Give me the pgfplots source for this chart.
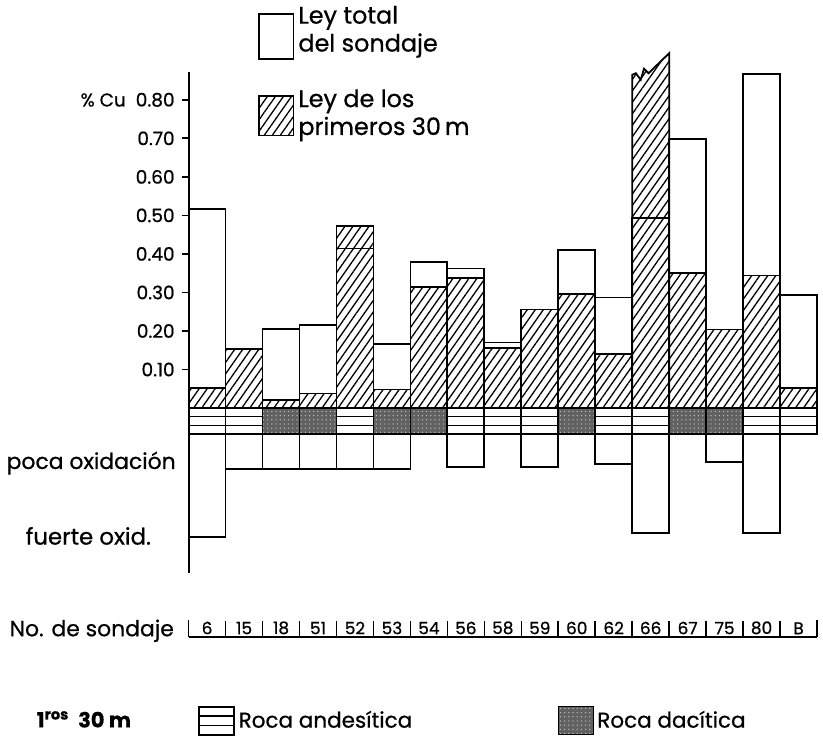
\documentclass[border=0pt]{standalone}
\usepackage{fontspec}
\setmainfont{Poppins}[FakeBold=0.7]
\usepackage{pgfplots}
\pgfplotsset{compat=1.18}
\usetikzlibrary{patterns.meta}

\tikzset{
  hatch/.style={pattern={Lines[angle=55,distance=3.3pt,line width=0.65pt]}},
  dacite/.style={fill=black!62, postaction={pattern={Dots[distance=2.1pt,radius=0.35pt]}, pattern color=white!75!black}},
}

\begin{document}
\begin{tikzpicture}
\begin{axis}[
  name=main,
  scale only axis, width=315.5pt, height=295pt,
  xmin=0, xmax=17, ymin=-0.595, ymax=0.93,
  clip=false,
  axis x line=bottom, axis y line=left,
  x axis line style={-, line width=0.9pt},
  y axis line style={draw=none},
  tick align=outside, major tick length=3.5pt,
  ytick={0.1,0.2,0.3,0.4,0.5,0.6,0.7,0.8},
  yticklabels={0.10,0.20,0.30,0.40,0.50,0.60,0.70,{\% Cu\hspace{5pt}0.80}},
  yticklabel style={font=\fontsize{9.3}{10}\selectfont},
  ytick style={line width=0.9pt, black},
  xtick={0.5,1.5,2.5,3.5,4.5,5.5,6.5,7.5,8.5,9.5,10.5,11.5,12.5,13.5,14.5,15.5,16.5},
  xticklabels={6,15,18,51,52,53,54,56,58,59,60,62,66,67,75,80,B},
  xtick style={draw=none},
  xticklabel style={font=\fontsize{8.5}{9}\selectfont, anchor=south, yshift=1.5pt},
  legend cell align=left,
  legend style={at={(0.1094,1.082)}, anchor=north west, draw=none, fill=none,
    inner sep=0pt, row sep=13pt, font=\fontsize{12}{14}\selectfont,
    cells={align=left}},
]
% legend (top)
\addlegendimage{legend image code/.code={\draw[line width=0.9pt, fill=white] (0pt,-14.25pt) rectangle (17.5pt,8.25pt);}}
\addlegendentry{Ley total\\del sondaje}
\addlegendimage{legend image code/.code={\draw[line width=0.9pt, hatch] (0pt,-11pt) rectangle (17.5pt,9pt);}}
\addlegendentry{Ley de los\\primeros 30\,m}

% oxidation bars (below the rock band)
\addplot[forget plot, ybar, bar width=1, bar shift=0pt, draw=black, fill=none, line width=0.9pt] coordinates {
 (0.5,-0.335) (1.5,-0.158) (2.5,-0.158) (3.5,-0.158) (4.5,-0.158) (5.5,-0.158)
 (7.5,-0.153) (9.5,-0.152) (11.5,-0.146) (12.5,-0.325) (14.5,-0.141) (15.5,-0.325)};

% rock band: andesitic
\addplot[forget plot, ybar, bar width=1, bar shift=0pt, draw=black, fill=white, line width=0.9pt] coordinates {
 (0.5,-0.067) (1.5,-0.067) (4.5,-0.067) (7.5,-0.067) (8.5,-0.067) (9.5,-0.067)
 (11.5,-0.067) (12.5,-0.067) (15.5,-0.067) (16.5,-0.067)};
% rock band: dacitic
\addplot[forget plot, ybar, bar width=1, bar shift=0pt, draw=black, dacite, line width=0.9pt] coordinates {
 (2.5,-0.067) (3.5,-0.067) (5.5,-0.067) (6.5,-0.067) (10.5,-0.067) (13.5,-0.067) (14.5,-0.067)};
% andesitic stripes
\addplot[forget plot, black, line width=0.8pt, unbounded coords=jump] coordinates {
 (0,-0.022) (2,-0.022) (2,nan) (4,-0.022) (5,-0.022) (5,nan) (7,-0.022) (10,-0.022) (10,nan)
 (11,-0.022) (13,-0.022) (13,nan) (15,-0.022) (17,-0.022)};
\addplot[forget plot, black, line width=0.8pt, unbounded coords=jump] coordinates {
 (0,-0.045) (2,-0.045) (2,nan) (4,-0.045) (5,-0.045) (5,nan) (7,-0.045) (10,-0.045) (10,nan)
 (11,-0.045) (13,-0.045) (13,nan) (15,-0.045) (17,-0.045)};

% grade of the first 30 m (hatched)
\addplot[forget plot, ybar, bar width=1, bar shift=0pt, draw=black, hatch, line width=0.9pt] coordinates {
 (0.5,0.053) (1.5,0.153) (2.5,0.020) (3.5,0.038) (4.5,0.472) (5.5,0.048) (6.5,0.314)
 (7.5,0.338) (8.5,0.156) (9.5,0.256) (10.5,0.296) (11.5,0.140) (13.5,0.351)
 (14.5,0.204) (15.5,0.344) (16.5,0.053)};
% sondaje 66: broken (off-scale) bar
\addplot[forget plot, draw=black, hatch, line width=0.9pt] coordinates {
 (12,0) (12,0.865) (12.1,0.869) (12.23,0.852) (12.32,0.881) (12.44,0.869) (13,0.921) (13,0)} -- cycle;

% total grade of the drill hole (outline)
\addplot[forget plot, ybar, bar width=1, bar shift=0pt, draw=black, fill=none, line width=0.9pt] coordinates {
 (0.5,0.516) (1.5,0.153) (2.5,0.206) (3.5,0.215) (4.5,0.414) (5.5,0.166) (6.5,0.379)
 (7.5,0.362) (8.5,0.170) (9.5,0.256) (10.5,0.411) (11.5,0.287) (12.5,0.494) (13.5,0.699)
 (14.5,0.204) (15.5,0.867) (16.5,0.294)};

% vertical axis line
\addplot[forget plot, black, line width=0.9pt] coordinates {(0,-0.427) (0,0.872)};
% separators of the drill hole strip
\addplot[forget plot, black, line width=0.8pt, unbounded coords=jump] coordinates {
 (0,-0.595) (0,-0.550) (0.5,nan) (1,-0.595) (1,-0.553) (1.5,nan) (2,-0.595) (2,-0.553) (2.5,nan)
 (3,-0.595) (3,-0.553) (3.5,nan) (4,-0.595) (4,-0.553) (4.5,nan) (5,-0.595) (5,-0.553) (5.5,nan)
 (6,-0.595) (6,-0.553) (6.5,nan) (7,-0.595) (7,-0.553) (7.5,nan) (8,-0.595) (8,-0.553) (8.5,nan)
 (9,-0.595) (9,-0.553) (9.5,nan) (10,-0.595) (10,-0.553) (10.5,nan) (11,-0.595) (11,-0.553) (11.5,nan)
 (12,-0.595) (12,-0.553) (12.5,nan) (13,-0.595) (13,-0.553) (13.5,nan) (14,-0.595) (14,-0.553) (14.5,nan)
 (15,-0.595) (15,-0.553) (15.5,nan) (16,-0.595) (16,-0.553) (16.5,nan) (17,-0.595) (17,-0.550)};

% text labels
\node[anchor=east, font=\fontsize{11}{13}\selectfont] at (axis cs:-0.16,-0.143) {poca oxidación};
\node[anchor=east, font=\fontsize{11.5}{13}\selectfont] at (axis cs:-0.83,-0.332) {fuerte oxid.};
\node[anchor=east, font=\fontsize{11}{13}\selectfont] at (axis cs:-0.21,-0.578) {No. de sondaje};
\node[anchor=west, font=\fontsize{10.5}{12}\selectfont\bfseries] at (axis cs:-4.3,-0.808) {1\textsuperscript{ros}\ \ 30 m};

% page extent
\path (rel axis cs:-0.2948,-0.178) rectangle (rel axis cs:1.0095,1.0847);
\end{axis}

\begin{axis}[
  scale only axis, width=315.5pt, height=295pt,
  xmin=0, xmax=17, ymin=-0.595, ymax=0.93,
  hide axis, clip=false,
  legend columns=2,
  legend style={at={(0.0143,-0.142)}, anchor=west, draw=none, fill=none,
    inner sep=0pt, font=\fontsize{10.8}{13}\selectfont,
    /tikz/every even column/.append style={column sep=71pt}},
]
\addlegendimage{legend image code/.code={
  \draw[line width=0.9pt, fill=white] (0pt,-7pt) rectangle (17.5pt,7pt);
  \draw[line width=0.8pt] (0pt,-2.3pt) -- (17.5pt,-2.3pt);
  \draw[line width=0.8pt] (0pt,2.3pt) -- (17.5pt,2.3pt);}}
\addlegendentry{Roca andesítica}
\addlegendimage{legend image code/.code={
  \path[dacite] (0pt,-7pt) rectangle (17.5pt,7pt);}}
\addlegendentry{Roca dacítica}
\end{axis}
\end{tikzpicture}
\end{document}
